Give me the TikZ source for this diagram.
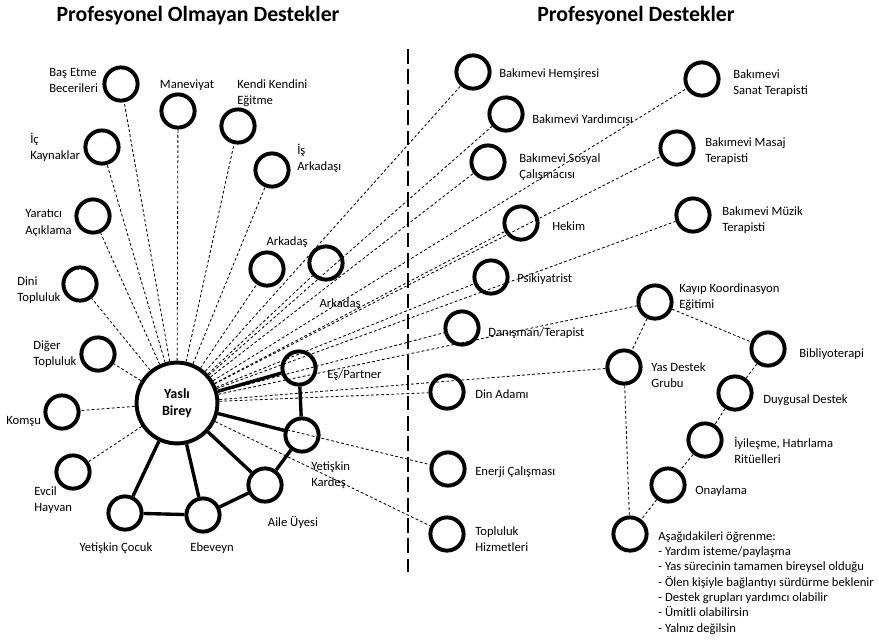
\documentclass[tikz,border=0pt]{standalone}
\usepackage{fontspec}
\setmainfont{Carlito}
\begin{document}
\begin{tikzpicture}[x=0.025cm, y=-0.025cm, line join=round,
  ring/.style={circle, draw, line width=2.8pt, minimum size=0.83cm, inner sep=0pt},
  bigring/.style={ring, minimum size=2.02cm},
  lbl/.style={font=\fontsize{9}{11.4}\selectfont, inner sep=0pt, align=left},
  heading/.style={font=\fontsize{15.5}{18}\selectfont\bfseries, inner sep=0pt},
  link/.style={dash pattern=on 2pt off 1.6pt, line width=0.6pt},
  tie/.style={line width=2.4pt},
  divider/.style={dash pattern=on 10.5pt off 4pt, line width=1.4pt}]
\useasboundingbox (0,0) rectangle (879,641);

% headings
\node[heading] (h1) at (198,16) {Profesyonel Olmayan Destekler};
\node[heading] (h2) at (636,16) {Profesyonel Destekler};

% divider
\coordinate (dtop) at (408,49);
\coordinate (dbot) at (408,572);
\draw[divider] (dtop) -- (dbot);

% non-professional side
\node[bigring, font=\fontsize{10}{12.5}\selectfont\bfseries, align=center] (yasli) at (177,403) {Yaslı\\Birey};
\node[ring] (bas) at (121,84) {};
\node[ring] (manevi) at (178,111) {};
\node[ring] (kendi) at (238,126) {};
\node[ring] (isark) at (272,170) {};
\node[ring] (ickay) at (102,147) {};
\node[ring] (yaratici) at (93,216) {};
\node[ring] (dini) at (80,284) {};
\node[ring] (diger) at (98,354) {};
\node[ring] (komsu) at (62,412) {};
\node[ring] (evcil) at (73,472) {};
\node[ring] (ark1) at (267,269) {};
\node[ring] (ark2) at (326,263) {};
\node[ring] (es) at (299,368) {};
\node[ring] (kardes) at (302,435) {};
\node[ring] (aile) at (265,485) {};
\node[ring] (ebeveyn) at (203,515) {};
\node[ring] (cocuk) at (125,513) {};

\node[lbl, anchor=west] (bas-t) at (49,80) {Baş Etme\\Becerileri};
\node[lbl] (manevi-t) at (187,85) {Maneviyat};
\node[lbl, anchor=west] (kendi-t) at (237,93) {Kendi Kendini\\Eğitme};
\node[lbl, anchor=west] (isark-t) at (297,158) {İş\\Arkadaşı};
\node[lbl, anchor=west] (ickay-t) at (30,147) {İç\\Kaynaklar};
\node[lbl, anchor=west] (yaratici-t) at (25,223) {Yaratıcı\\Açıklama};
\node[lbl, anchor=west] (dini-t) at (17,290) {Dini\\Topluluk};
\node[lbl, anchor=west] (diger-t) at (33,354) {Diğer\\Topluluk};
\node[lbl, anchor=west] (komsu-t) at (6,421) {Komşu};
\node[lbl, anchor=west] (evcil-t) at (34,500) {Evcil\\Hayvan};
\node[lbl] (ark1-t) at (287,242) {Arkadaş};
\node[lbl] (ark2-t) at (340,304) {Arkadaş};
\node[lbl, anchor=west] (es-t) at (327,375) {Eş/Partner};
\node[lbl, anchor=west] (kardes-t) at (311,475) {Yetişkin\\Kardeş};
\node[lbl] (aile-t) at (293,522) {Aile Üyesi};
\node[lbl] (ebeveyn-t) at (212,548) {Ebeveyn};
\node[lbl] (cocuk-t) at (116,548) {Yetişkin Çocuk};

\foreach \n in {bas,manevi,kendi,isark,ickay,yaratici,dini,diger,komsu,evcil,ark1,ark2}
  \draw[link] (yasli) -- (\n);

\draw[tie] (yasli) -- (es);
\draw[tie] (yasli) -- (kardes);
\draw[tie] (yasli) -- (aile);
\draw[tie] (yasli) -- (ebeveyn);
\draw[tie] (yasli) -- (cocuk);
\draw[tie] (es) -- (kardes);
\draw[tie] (kardes) -- (aile);
\draw[tie] (aile) -- (ebeveyn);
\draw[tie] (ebeveyn) -- (cocuk);

% professional side
\node[ring] (hemsire) at (473,72) {};
\node[ring] (yardimci) at (506,114) {};
\node[ring] (sosyal) at (488,162) {};
\node[ring] (hekim) at (521,223) {};
\node[ring] (sanat) at (702,79) {};
\node[ring] (masaj) at (677,148) {};
\node[ring] (muzik) at (693,215) {};
\node[ring] (psik) at (491,277) {};
\node[ring] (danis) at (462,328) {};
\node[ring] (din) at (447,392) {};
\node[ring] (enerji) at (448,469) {};
\node[ring] (topluluk) at (447,534) {};
\node[ring] (kayip) at (655,302) {};
\node[ring] (yas) at (624,367) {};
\node[ring] (biblio) at (768,349) {};
\node[ring] (duygu) at (735,393) {};
\node[ring] (iyiles) at (705,440) {};
\node[ring] (onay) at (668,485) {};
\node[ring] (ogren) at (630,534) {};

\node[lbl, anchor=west] (hemsire-t) at (499,74) {Bakımevi Hemşiresi};
\node[lbl, anchor=west] (yardimci-t) at (532,119) {Bakımevi Yardımcısı};
\node[lbl, anchor=west] (sosyal-t) at (519,167) {Bakımevi Sosyal\\Çalışmacısı};
\node[lbl, anchor=west] (hekim-t) at (552,226) {Hekim};
\node[lbl, anchor=west] (sanat-t) at (733,83) {Bakımevi\\Sanat Terapisti};
\node[lbl, anchor=west] (masaj-t) at (705,151) {Bakımevi Masaj\\Terapisti};
\node[lbl, anchor=west] (muzik-t) at (722,220) {Bakımevi Müzik\\Terapisti};
\node[lbl, anchor=west] (psik-t) at (517,279) {Psikiyatrist};
\node[lbl, anchor=west] (danis-t) at (488,333) {Danışman/Terapist};
\node[lbl, anchor=west] (din-t) at (475,394) {Din Adamı};
\node[lbl, anchor=west] (enerji-t) at (475,472) {Enerji Çalışması};
\node[lbl, anchor=west] (topluluk-t) at (475,539) {Topluluk\\Hizmetleri};
\node[lbl, anchor=west] (kayip-t) at (679,297) {Kayıp Koordinasyon\\Eğitimi};
\node[lbl, anchor=west] (yas-t) at (651,375) {Yas Destek\\Grubu};
\node[lbl, anchor=west] (biblio-t) at (799,354) {Bibliyoterapi};
\node[lbl, anchor=west] (duygu-t) at (763,400) {Duygusal Destek};
\node[lbl, anchor=west] (iyiles-t) at (734,450) {İyileşme, Hatırlama\\Ritüelleri};
\node[lbl, anchor=west] (onay-t) at (695,491) {Onaylama};
\node[lbl, anchor=north west, font=\fontsize{9}{10.9}\selectfont] (ogren-t) at (658,531) {Aşağıdakileri öğrenme:\\- Yardım isteme/paylaşma\\- Yas sürecinin tamamen bireysel olduğu\\- Ölen kişiyle bağlantıyı sürdürme beklenir\\- Destek grupları yardımcı olabilir\\- Ümitli olabilirsin\\- Yalnız değilsin};

\foreach \n in {hemsire,yardimci,sosyal,hekim,sanat,masaj,muzik,psik,danis,din,enerji,topluluk,kayip,yas}
  \draw[link] (yasli) -- (\n);

\draw[link] (kayip) -- (yas);
\draw[link] (kayip) -- (biblio);
\draw[link] (biblio) -- (duygu);
\draw[link] (duygu) -- (iyiles);
\draw[link] (iyiles) -- (onay);
\draw[link] (onay) -- (ogren);
\draw[link] (yas) -- (ogren);
\end{tikzpicture}
\end{document}
